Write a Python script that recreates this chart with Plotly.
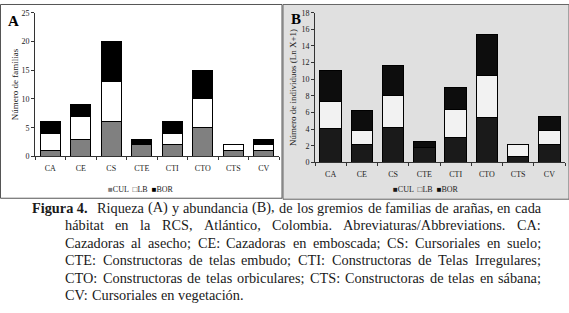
import plotly.graph_objects as go

# Gremios (guilds) per habitat
categories = ["CA", "CE", "CS", "CTE", "CTI", "CTO", "CTS", "CV"]

# Panel A: number of families
fam_cul = [1, 3, 6, 2, 2, 5, 1, 1]
fam_lb = [3, 4, 7, 0, 2, 5, 1, 1]
fam_bor = [2, 2, 7, 1, 2, 5, 0, 1]

# Panel B: number of individuals (Ln X+1)
ind_cul = [4.05, 2.19, 4.13, 1.79, 3.04, 5.42, 0.74, 2.19]
ind_lb = [3.24, 1.59, 3.97, 0.0, 3.26, 5.07, 1.40, 1.59]
ind_bor = [3.78, 2.50, 3.60, 0.70, 2.70, 4.91, 0.0, 1.68]

caption_lines = [
    "Riqueza (A) y abundancia (B), de los gremios de familias de arañas, en cada",
    "hábitat en la RCS, Atlántico, Colombia. Abreviaturas/Abbreviations. CA:",
    "Cazadoras al asecho; CE: Cazadoras en emboscada; CS: Cursoriales en suelo;",
    "CTE: Constructoras de telas embudo; CTI: Constructoras de Telas Irregulares;",
    "CTO: Constructoras de telas orbiculares; CTS: Constructoras de telas en sábana;",
    "CV: Cursoriales en vegetación.",
]

W, H = 569, 313
SERIF = "Liberation Serif, Times New Roman, serif"

def px_x(v):
    return v / W

def px_y(v):
    return 1 - v / H

fig = go.Figure()

colors_a = {"CUL": "#808080", "LB": "#ffffff", "BOR": "#000000"}
colors_b = {"CUL": "#1a1a1a", "LB": "#f2f2f2", "BOR": "#0d0d0d"}

for name, vals in [("CUL", fam_cul), ("LB", fam_lb), ("BOR", fam_bor)]:
    fig.add_trace(go.Bar(
        x=categories, y=vals, name=name, width=0.66,
        marker=dict(color=colors_a[name], line=dict(color="#000000", width=1)),
        xaxis="x", yaxis="y", showlegend=False,
    ))

for name, vals in [("CUL", ind_cul), ("LB", ind_lb), ("BOR", ind_bor)]:
    fig.add_trace(go.Bar(
        x=categories, y=vals, name=name, width=0.69,
        marker=dict(color=colors_b[name], line=dict(color="#000000", width=1)),
        xaxis="x2", yaxis="y2", showlegend=False,
    ))

axis_font = dict(family=SERIF, size=8, color="#222222")
common_x = dict(showgrid=False, showline=True, linecolor="#333333", linewidth=1,
                ticks="outside", tickson="boundaries", ticklen=3, tickcolor="#333333",
                tickfont=axis_font, fixedrange=True, ticklabelstandoff=4)
common_y = dict(showgrid=False, showline=True, linecolor="#333333", linewidth=1,
                ticks="outside", ticklen=3, tickcolor="#333333", tickfont=axis_font,
                zeroline=False, fixedrange=True)

fig.update_layout(
    width=W, height=H,
    margin=dict(l=0, r=0, t=0, b=0),
    paper_bgcolor="#ffffff",
    plot_bgcolor="rgba(0,0,0,0)",
    barmode="stack",
    font=dict(family=SERIF, color="#222222"),
    xaxis=dict(domain=[px_x(35), px_x(279)], anchor="y", **common_x),
    yaxis=dict(domain=[px_y(157), px_y(9)], anchor="x", range=[0, 25], dtick=5,
               title=dict(text="Número de familias", font=dict(family=SERIF, size=9), standoff=1),
               **common_y),
    xaxis2=dict(domain=[px_x(315), px_x(565)], anchor="y2", **common_x),
    yaxis2=dict(domain=[px_y(163), px_y(9)], anchor="x2", range=[0, 18], dtick=2,
                title=dict(text="Número de individuos (Ln X+1)", font=dict(family=SERIF, size=9), standoff=3),
                **common_y),
    showlegend=False,
)

# panel backgrounds
fig.add_shape(type="rect", xref="paper", yref="paper", layer="below",
              x0=px_x(0.5), x1=px_x(282), y0=px_y(200), y1=px_y(0.5),
              fillcolor="#ffffff", line=dict(color="#555555", width=1))
fig.add_shape(type="rect", xref="paper", yref="paper", layer="below",
              x0=px_x(283), x1=px_x(569), y0=px_y(201), y1=px_y(0.5),
              fillcolor="#e0e0e0", line=dict(color="#666666", width=1))

# compact legends (square swatch + label)
def legend_text(colors):
    parts = []
    for name in ["CUL", "LB", "BOR"]:
        sym = "□" if name == "LB" else "■"
        col = "#333333" if name == "LB" else colors[name]
        parts.append(f"<span style='color:{col}'>{sym}</span>{name}")
    return "  ".join(parts)

fig.add_annotation(text=legend_text(colors_a), x=px_x(141), y=px_y(191), xref="paper", yref="paper",
                   xanchor="center", yanchor="middle", showarrow=False,
                   font=dict(family=SERIF, size=8, color="#222222"))
fig.add_annotation(text=legend_text(colors_b), x=px_x(426), y=px_y(191), xref="paper", yref="paper",
                   xanchor="center", yanchor="middle", showarrow=False,
                   font=dict(family=SERIF, size=8, color="#222222"))

# panel letters
fig.add_annotation(text="<b>A</b>", x=px_x(6), y=px_y(17), xref="paper", yref="paper",
                   xanchor="left", yanchor="middle", showarrow=False,
                   font=dict(family=SERIF, size=15, color="#000000"))
fig.add_annotation(text="<b>B</b>", x=px_x(289), y=px_y(15), xref="paper", yref="paper",
                   xanchor="left", yanchor="middle", showarrow=False,
                   font=dict(family=SERIF, size=15, color="#000000"))

# caption, justified word by word using Times (Liberation Serif) advance widths
TIMES = {" ": 250, "!": 333, "(": 333, ")": 333, ",": 250, "-": 333, ".": 250, "/": 278,
         ":": 278, ";": 278, "+": 564}
TIMES.update({d: 500 for d in "0123456789"})
TIMES.update(dict(zip("ABCDEFGHIJKLMNOPQRSTUVWXYZ",
                      [722, 667, 667, 722, 611, 556, 722, 722, 333, 389, 722, 611, 889,
                       722, 722, 556, 722, 667, 556, 611, 722, 722, 944, 722, 722, 611])))
TIMES.update(dict(zip("abcdefghijklmnopqrstuvwxyz",
                      [444, 500, 444, 500, 444, 333, 500, 500, 278, 278, 500, 278, 778,
                       500, 500, 500, 500, 333, 389, 278, 500, 500, 722, 500, 500, 444])))
TIMES.update({"á": 444, "é": 444, "í": 278, "ó": 500, "ú": 500, "ñ": 500})

def text_width(s, size):
    return sum(TIMES.get(ch, 500) for ch in s) * size / 1000.0

cap_size = 14.3
cap_font = dict(family=SERIF, size=cap_size, color="#1a1a1a")
line_x = [97, 65, 65, 65, 65, 65]
line_y = [210, 228, 246, 264, 282, 300]
right_edge = 541

fig.add_annotation(text="<b>Figura 4.</b>", x=px_x(30), y=px_y(line_y[0]), xref="paper", yref="paper",
                   xanchor="left", yanchor="middle", showarrow=False, font=cap_font)

for i, (txt, x0, yy) in enumerate(zip(caption_lines, line_x, line_y)):
    words = txt.split(" ")
    widths = [text_width(w, cap_size) for w in words]
    last = i == len(caption_lines) - 1
    if last or len(words) < 2:
        gap = text_width(" ", cap_size)
    else:
        gap = (right_edge - x0 - sum(widths)) / (len(words) - 1)
    xpos = x0
    for w, ww in zip(words, widths):
        fig.add_annotation(text=w, x=px_x(xpos), y=px_y(yy), xref="paper", yref="paper",
                           xanchor="left", yanchor="middle", showarrow=False,
                           font=cap_font, borderpad=0, borderwidth=0)
        xpos += ww + gap

fig.write_html("out.html", config={"displayModeBar": False},
               post_script="document.body.style.margin='0';")
